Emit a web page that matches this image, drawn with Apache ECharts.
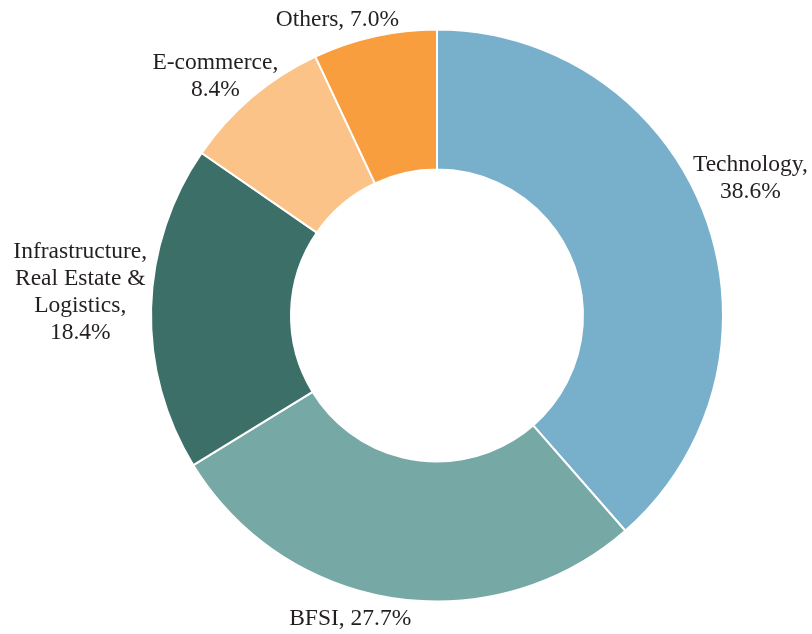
<!DOCTYPE html>
<html>
<head>
<meta charset="utf-8">
<script src="https://cdn.jsdelivr.net/npm/echarts@6/dist/echarts.min.js"></script>
<style>
  html, body { margin: 0; padding: 0; background: #fff; }
  #main { width: 812px; height: 634px; }
</style>
</head>
<body>
<div id="main"></div>
<script>
  // sectors, clockwise from 12 o'clock
  var sectors = ['Technology', 'BFSI', 'Infrastructure, Real Estate & Logistics', 'E-commerce', 'Others'];
  var labelText = ['Technology,\n', 'BFSI, ', 'Infrastructure,\nReal Estate &\nLogistics,\n', 'E-commerce,\n', 'Others, '];
  var shares = [38.6, 27.7, 18.4, 8.4, 7.0];
  var colors = ['#78b0cc', '#76a9a5', '#3d6f69', '#fcc389', '#f89e3e'];
  // small hand nudges of the labels from where the pie puts them
  var labelNudge = [[-28, -32], [24, 9], [13, -15], [39, -12], [32, -5]];

  var chart = echarts.init(document.getElementById('main'));
  var data = [];
  for (var i = 0; i < sectors.length; i++) {
    data.push({
      name: sectors[i],
      value: shares[i],
      itemStyle: { color: colors[i] },
      label: { formatter: labelText[i] + shares[i].toFixed(1) + '%' }
    });
  }
  chart.setOption({
    animation: false,
    series: [{
      type: 'pie',
      center: [437, 315.5],
      radius: [146, 286],
      startAngle: 90,
      clockwise: true,
      avoidLabelOverlap: false,
      itemStyle: { borderColor: '#fff', borderWidth: 2 },
      label: {
        show: true,
        position: 'outside',
        distance: 12,
        fontFamily: 'Liberation Serif',
        fontSize: 23.5,
        lineHeight: 27,
        color: '#231f20'
      },
      labelLine: { show: false, length: 12, length2: 0 },
      // keep the label box where the pie put it, centre the lines, then nudge
      labelLayout: function (p) {
        var w = p.labelRect.width;
        var dx = p.align === 'left' ? w / 2 : (p.align === 'right' ? -w / 2 : 0);
        var n = labelNudge[p.dataIndex];
        return { align: 'center', dx: dx + n[0], dy: n[1] };
      },
      data: data
    }]
  });
</script>
</body>
</html>
